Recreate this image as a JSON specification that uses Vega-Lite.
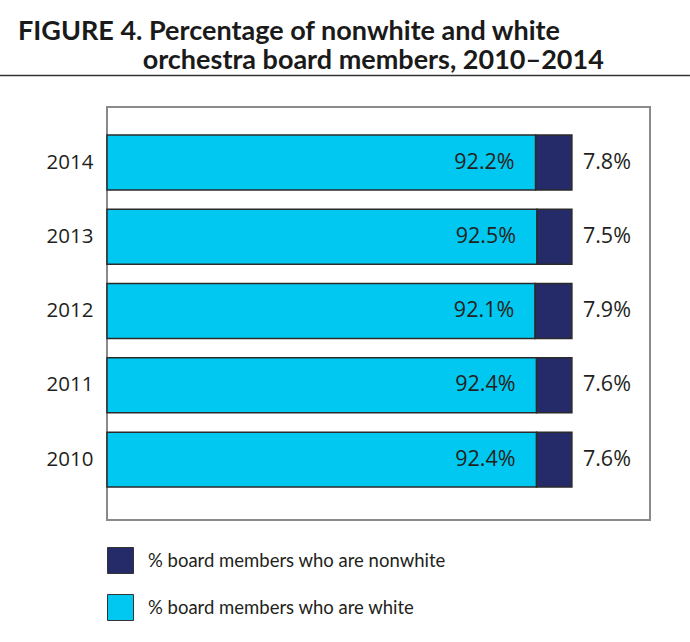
{
  "$schema": "https://vega.github.io/schema/vega-lite/v6.json",
  "autosize": "none",
  "width": 543,
  "height": 413,
  "padding": {"left": 107, "top": 107, "right": 40, "bottom": 122},
  "background": "white",
  "title": {
    "text": ["FIGURE 4. Percentage of nonwhite and white", "\u200b\u00a0\u00a0\u00a0\u00a0\u00a0\u00a0\u00a0\u00a0\u00a0\u00a0\u00a0\u00a0\u00a0\u00a0\u00a0\u00a0\u00a0\u00a0\u00a0orchestra board members, 2010\u20132014"],
    "anchor": "start",
    "frame": "group",
    "dx": -89,
    "offset": 0,
    "font": "Lato",
    "fontWeight": "bold",
    "fontSize": 27,
    "lineHeight": 29,
    "color": "#1a1a1a"
  },
  "data": {
    "values": [
      {"year": "2014", "group": "% board members who are white", "pct": 92.2},
      {"year": "2014", "group": "% board members who are nonwhite", "pct": 7.8},
      {"year": "2013", "group": "% board members who are white", "pct": 92.5},
      {"year": "2013", "group": "% board members who are nonwhite", "pct": 7.5},
      {"year": "2012", "group": "% board members who are white", "pct": 92.1},
      {"year": "2012", "group": "% board members who are nonwhite", "pct": 7.9},
      {"year": "2011", "group": "% board members who are white", "pct": 92.4},
      {"year": "2011", "group": "% board members who are nonwhite", "pct": 7.6},
      {"year": "2010", "group": "% board members who are white", "pct": 92.4},
      {"year": "2010", "group": "% board members who are nonwhite", "pct": 7.6}
    ]
  },
  "transform": [{"calculate": "format(datum.pct, '.1f') + '%'", "as": "label"}],
  "layer": [
    {
      "encoding": {
        "y": {
          "field": "year", "type": "nominal", "sort": "descending",
          "scale": {"paddingInner": 0.26, "paddingOuter": 0.41, "align": 0.46},
          "axis": {"title": null, "ticks": false, "domain": false, "labelPadding": 14,
                   "labelFont": "Open Sans", "labelFontSize": 20.5, "labelColor": "#231f20"}
        }
      },
      "layer": [
        {
          "mark": {"type": "bar", "stroke": "#2a2a2a", "strokeWidth": 1.5},
          "encoding": {
            "x": {
              "field": "pct", "type": "quantitative", "stack": "zero",
              "scale": {"domain": [0, 116.8], "nice": false},
              "axis": null
            },
            "color": {
              "field": "group", "type": "nominal",
              "scale": {"domain": ["% board members who are nonwhite", "% board members who are white"], "range": ["#252B69", "#00C8F0"]},
              "legend": {
                "orient": "none", "legendX": 0, "legendY": 440, "title": null,
                "symbolType": "square", "symbolSize": 676, "symbolStrokeColor": "#333333",
                "symbolStrokeWidth": 1, "symbolOpacity": 1, "rowPadding": 16, "labelOffset": 14,
                "labelLimit": 0,
                "labelFont": "Lato", "labelFontSize": 18.5, "labelColor": "#231f20"
              }
            },
            "order": {"field": "group", "sort": "descending"}
          }
        },
        {
          "transform": [{"filter": "datum.pct > 50"}],
          "mark": {"type": "text", "align": "right", "baseline": "middle", "dx": -21,
                   "font": "Open Sans", "fontSize": 21.5, "color": "#231f20"},
          "encoding": {
            "x": {"field": "pct", "type": "quantitative", "stack": null},
            "text": {"field": "label", "type": "nominal"}
          }
        },
        {
          "transform": [{"filter": "datum.pct < 50"}],
          "mark": {"type": "text", "align": "left", "baseline": "middle", "dx": 11,
                   "font": "Open Sans", "fontSize": 21.5, "color": "#231f20"},
          "encoding": {
            "x": {"datum": 100, "type": "quantitative"},
            "text": {"field": "label", "type": "nominal"}
          }
        }
      ]
    },
    {
      "data": {"values": [{}]},
      "transform": [],
      "mark": {"type": "rule", "clip": false, "color": "#333333", "strokeWidth": 1.5},
      "encoding": {
        "y": {"datum": 1.0763, "type": "quantitative", "scale": {"domain": [0, 1], "nice": false}, "axis": null},
        "x": {"datum": -23.02, "type": "quantitative"},
        "x2": {"datum": 125.4}
      }
    }
  ],
  "resolve": {"scale": {"y": "independent"}},
  "config": {
    "view": {"stroke": "#8a8a8a", "strokeWidth": 2}
  }
}
